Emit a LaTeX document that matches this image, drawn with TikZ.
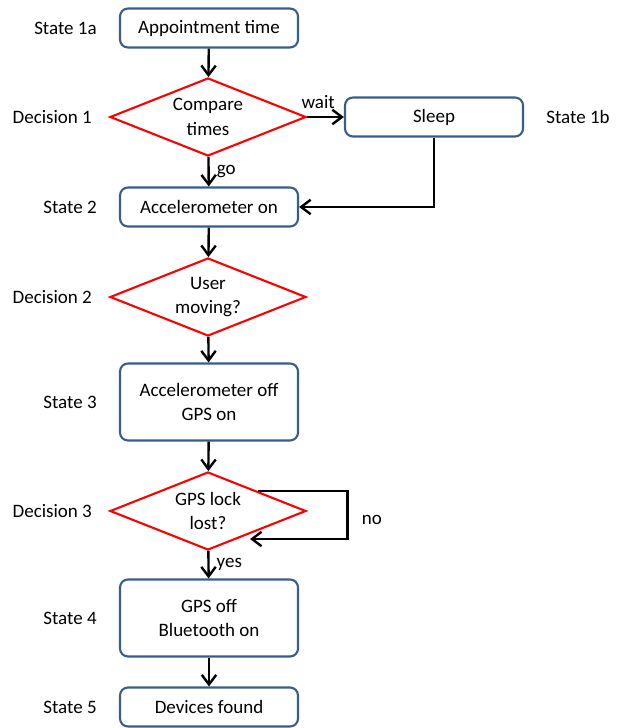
\documentclass[tikz,border=0pt]{standalone}
\usepackage{fontspec}
\setmainfont{Carlito}
\usepackage{xcolor}
\usetikzlibrary{shapes.geometric,positioning,arrows.meta}
\definecolor{boxblue}{RGB}{56,93,138}

\begin{document}
\begin{tikzpicture}[x=0.025cm,y=-0.025cm,
  every node/.style={font=\fontsize{13.5}{17.7}\selectfont,align=center},
  state/.style={draw=boxblue,line width=1.5pt,rounded corners=0.2cm,
                minimum width=4.45cm,minimum height=0.975cm,inner sep=2pt},
  tall/.style={minimum height=1.925cm},
  decision/.style={diamond,draw=red,line width=1.5pt,shape aspect=2.5,
                   minimum width=4.9cm,minimum height=1.95cm,inner sep=0pt},
  lab/.style={inner sep=0pt},
  arr/.style={line width=1.7pt,-{Straight Barb[length=2.4mm,width=3.6mm]}}]
\useasboundingbox (0,0) rectangle (620,728);

\node[state] (appt) at (209,28) {Appointment time};
\node[decision] (cmp) at (208,117) {Compare\\times};
\node[state] (sleep) at (434,117) {Sleep};
\node[state] (accon) at (209,207) {Accelerometer on};
\node[decision] (moving) at (208,297) {User\\moving?};
\node[state,tall] (gpson) at (209,402) {Accelerometer off\\GPS on};
\node[decision] (lock) at (208,511) {GPS lock\\lost?};
\node[state,tall] (bton) at (209,618) {GPS off\\Bluetooth on};
\node[state] (found) at (209,707) {Devices found};

% labels on the side
\node[lab,left=0.55cm of appt] {State 1a};
\node[lab,left=0.42cm of cmp] {Decision 1};
\node[lab,right=0.55cm of sleep] {State 1b};
\node[lab,left=0.55cm of accon] {State 2};
\node[lab,left=0.42cm of moving] {Decision 2};
\node[lab,left=0.55cm of gpson] {State 3};
\node[lab,left=0.42cm of lock] {Decision 3};
\node[lab,left=0.55cm of bton] {State 4};
\node[lab,left=0.55cm of found] {State 5};

\coordinate (loopin) at (250,539);

\draw[arr] (appt) -- (cmp);
\draw[arr] (cmp) -- node[above,pos=0.3,yshift=2pt]{wait} (sleep);
\draw[arr] (cmp) -- node[right,inner sep=5pt]{go} (accon);
\draw[arr] (sleep) |- (accon);
\draw[arr] (accon) -- (moving);
\draw[arr] (moving) -- (gpson);
\draw[arr] (gpson) -- (lock);
\draw[arr] (lock.north east) -- ++(90,0) |- node[right,pos=0.3,xshift=6pt]{no} (loopin);
\draw[arr] (lock) -- node[right,inner sep=5pt]{yes} (bton);
\draw[arr] (bton) -- (found);
\end{tikzpicture}
\end{document}
